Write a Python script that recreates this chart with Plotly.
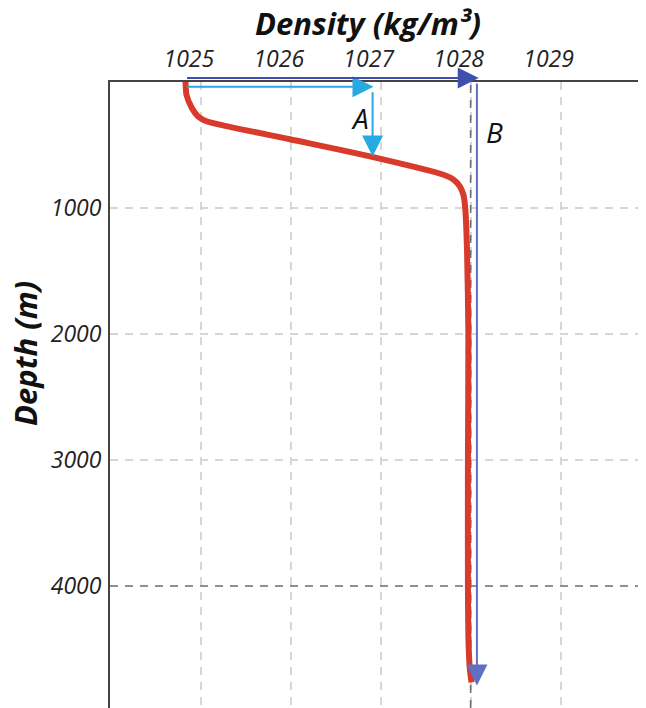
import plotly.graph_objects as go

# ---- data ----
depth_m = [0, 100, 206, 273, 313, 454, 590, 736, 775, 829, 896, 1000, 1333, 2000, 3000, 4000, 4400, 4650, 4765]
density = [1024.83, 1024.84, 1024.90, 1024.97, 1025.07, 1025.99, 1026.88, 1027.70, 1027.81, 1027.88, 1027.92,
           1027.94, 1027.96, 1027.975, 1027.97, 1027.97, 1027.975, 1027.99, 1028.01]

x_ticks = [1025, 1026, 1027, 1028, 1029]
y_ticks = [1000, 2000, 3000, 4000]
highlight_density = [1028]
highlight_depth = [4000]

x_range = [1023.99, 1029.95]
y_range = [4968, 0]

# arrows: (start density, start depth) -> (end density, end depth)
arrow_A_h = [1024.83, 37, 1026.92, 37]
arrow_A_v = [1026.91, 69, 1026.91, 592]
arrow_B_h = [1024.83, -32, 1028.09, -32]
arrow_B_v = [1028.07, 0, 1028.07, 4790]
label_A = [1026.77, 283]
label_B = [1028.26, 395]

FONT = "Open Sans"
# page body has an 8px margin; figure sized so it fills the 646x708 window
W, H = 638, 700
ML, MT = 102, 74
PW, PH = W - ML, H - MT
DASH = "8px,7px"

fig = go.Figure()

# darker dashed reference lines (drawn above the grid, beneath the profile)
for v in highlight_density:
    fig.add_trace(go.Scatter(x=[v, v], y=y_range, mode="lines",
                             line=dict(color="#6e6e6e", width=1.6, dash=DASH),
                             hoverinfo="skip", showlegend=False, cliponaxis=True))
for v in highlight_depth:
    fig.add_trace(go.Scatter(x=x_range, y=[v, v], mode="lines",
                             line=dict(color="#7a7a7a", width=1.6, dash=DASH),
                             hoverinfo="skip", showlegend=False, cliponaxis=True))

fig.add_trace(go.Scatter(
    x=density, y=depth_m, mode="lines",
    line=dict(color="#d83b2b", width=6, shape="spline", smoothing=0.6),
    hoverinfo="skip", showlegend=False,
))


def depth_to_domain(d):
    return (y_range[0] - d) / (y_range[0] - y_range[1])


def arrow(a, color, width, size=1.5, domain_y=False):
    if domain_y:
        fig.add_annotation(x=a[2], y=depth_to_domain(a[3]), ax=a[0], ay=depth_to_domain(a[1]),
                           xref="x", yref="y domain", axref="x", ayref="y domain",
                           text="", showarrow=True, arrowhead=2, arrowsize=size, arrowwidth=width,
                           arrowcolor=color, standoff=0, startstandoff=0)
    else:
        fig.add_annotation(x=a[2], y=a[3], ax=a[0], ay=a[1], xref="x", yref="y", axref="x", ayref="y",
                           text="", showarrow=True, arrowhead=2, arrowsize=size, arrowwidth=width,
                           arrowcolor=color, standoff=0, startstandoff=0)


arrow(arrow_A_h, "#27a9e1", 2, 2.1)
arrow(arrow_A_v, "#27a9e1", 2, 2.1)
arrow(arrow_B_h, "#3f4fae", 2, 2.1, domain_y=True)
arrow(arrow_B_v, "#5f70c4", 2, 2.1)

fig.add_annotation(x=label_A[0], y=label_A[1], xref="x", yref="y", text="A", showarrow=False,
                   font=dict(family=FONT, size=28, color="#111111", style="italic"))
fig.add_annotation(x=label_B[0], y=label_B[1], xref="x", yref="y", text="B", showarrow=False,
                   font=dict(family=FONT, size=28, color="#111111", style="italic"))

# axis titles placed by pixel position in the figure
fig.add_annotation(x=(360 - ML) / PW, y=1 + (MT - 15) / PH, xref="paper", yref="paper",
                   xanchor="center", yanchor="middle",
                   text="Density (kg/m³)", showarrow=False,
                   font=dict(family=FONT, size=31, color="#111111", style="italic", weight="bold"))
fig.add_annotation(x=(17 - ML) / PW, y=1 - (345 - MT) / PH, xref="paper", yref="paper",
                   xanchor="center", yanchor="middle",
                   text="Depth (m)", showarrow=False, textangle=-90,
                   font=dict(family=FONT, size=31, color="#111111", style="italic", weight="bold"))

fig.update_xaxes(
    side="top", range=x_range, tickvals=x_ticks, ticktext=[str(t) for t in x_ticks],
    showgrid=True, gridcolor="#d6d6d6", gridwidth=1.5, griddash=DASH,
    showline=True, linecolor="#444444", linewidth=2, ticks="", zeroline=False,
    tickfont=dict(family=FONT, size=23, color="#222222", style="italic"),
    ticklabelshift=-12, ticklabelstandoff=4,
)
fig.update_yaxes(
    range=y_range, tickvals=y_ticks, ticktext=[str(t) for t in y_ticks],
    showgrid=True, gridcolor="#d6d6d6", gridwidth=1.5, griddash=DASH,
    showline=True, linecolor="#444444", linewidth=2, ticks="", zeroline=False,
    tickfont=dict(family=FONT, size=23, color="#222222", style="italic"),
    ticklabelstandoff=2,
)
fig.update_layout(
    width=W, height=H, margin=dict(l=ML, r=0, t=MT, b=0),
    plot_bgcolor="white", paper_bgcolor="white", showlegend=False,
)
fig.write_html("out.html")
